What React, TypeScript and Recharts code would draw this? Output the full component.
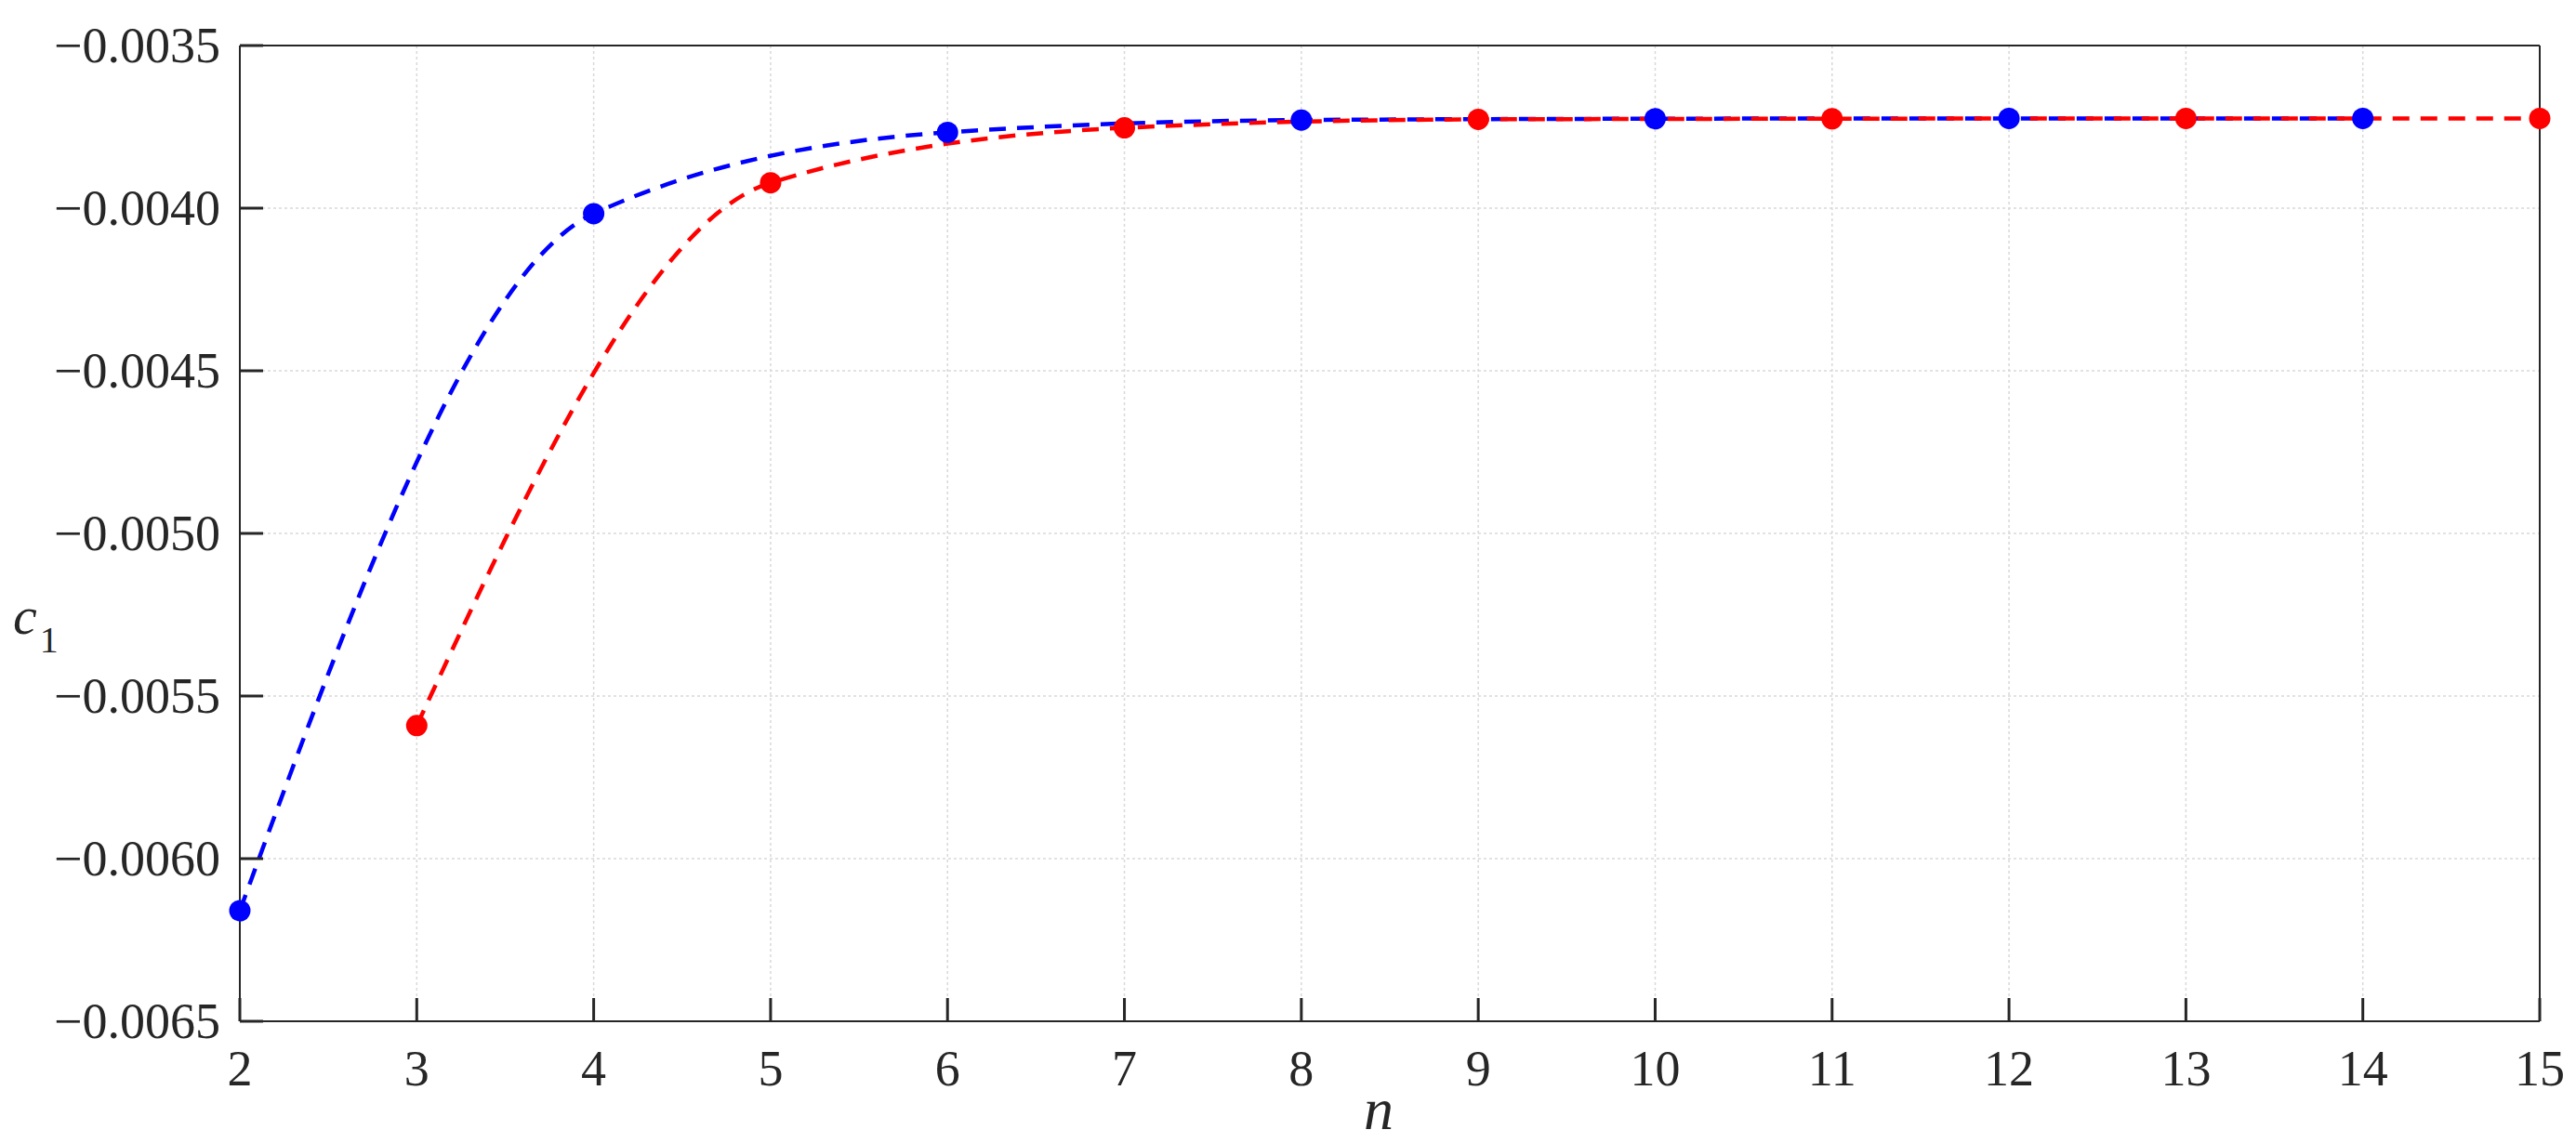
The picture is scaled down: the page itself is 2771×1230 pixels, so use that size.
import { CartesianGrid, Label, Line, LineChart, XAxis, YAxis } from "recharts";

// even n (blue) and odd n (red) sequences for c1
const evenN = [2, 4, 6, 8, 10, 12, 14];
const evenC1 = [-0.00616, -0.004017, -0.003767, -0.003729, -0.003725, -0.003724, -0.003724];
const oddN = [3, 5, 7, 9, 11, 13, 15];
const oddC1 = [-0.005591, -0.003922, -0.003753, -0.003727, -0.003725, -0.003724, -0.003724];

const xTicks = [2, 3, 4, 5, 6, 7, 8, 9, 10, 11, 12, 13, 14, 15];
const yTicks = [-0.0065, -0.006, -0.0055, -0.005, -0.0045, -0.004, -0.0035];

const evenData = evenN.map((n, i) => ({ n, c1: evenC1[i] }));
const oddData = oddN.map((n, i) => ({ n, c1: oddC1[i] }));

const AXIS = "#262626";
const FONT = "'Liberation Serif', 'Times New Roman', serif";
const TICK_LEN = 25;
const TICK_W = 3;

const fmtY = (v: number) => v.toFixed(4).replace("-", "\u2212");

// ticks point inward, MATLAB style; the label is drawn beside the tick line
function BottomTick(props: any) {
  const { x, y, payload } = props;
  return (
    <g>
      <path d={`M${x},${y}V${y - TICK_LEN}`} stroke={AXIS} strokeWidth={TICK_W} fill="none" />
      <text x={x} y={y + 69} textAnchor="middle" fontFamily={FONT} fontSize={54} fill={AXIS}>
        {payload.value}
      </text>
    </g>
  );
}

function LeftTick(props: any) {
  const { x, y, payload } = props;
  return (
    <g>
      <path d={`M${x},${y}H${x + TICK_LEN}`} stroke={AXIS} strokeWidth={TICK_W} fill="none" />
      <text x={x - 21} y={y + 18} textAnchor="end" fontFamily={FONT} fontSize={54} fill={AXIS}>
        {fmtY(payload.value)}
      </text>
    </g>
  );
}

function TopTick(props: any) {
  const { x, y } = props;
  return <path d={`M${x},${y}V${y + TICK_LEN}`} stroke={AXIS} strokeWidth={TICK_W} fill="none" />;
}

function RightTick(props: any) {
  const { x, y } = props;
  return <path d={`M${x},${y}H${x - TICK_LEN}`} stroke={AXIS} strokeWidth={TICK_W} fill="none" />;
}

export default function App() {
  return (
    <div style={{ width: 2771, height: 1230, background: "#fff", fontFamily: FONT }}>
      <style>{`body { margin: 0; }`}</style>
      <LineChart width={2771} height={1230} margin={{ top: 48, right: 38, bottom: 0, left: 0 }}>
        <CartesianGrid xAxisId="b" yAxisId="l" stroke="#d9d9d9" strokeWidth={1.5} strokeDasharray="3 3" />
        <XAxis
          xAxisId="b"
          dataKey="n"
          type="number"
          domain={[2, 15]}
          ticks={xTicks}
          height={131}
          tickSize={0}
          tickLine={false}
          tickMargin={0}
          tick={(p: any) => <BottomTick {...p} />}
          stroke={AXIS}
          strokeWidth={2}
        >
          <Label
            content={() => (
              <text x={1483} y={1215} textAnchor="middle" fontFamily={FONT} fontStyle="italic" fontSize={64} fill={AXIS}>
                n
              </text>
            )}
          />
        </XAxis>
        <XAxis
          xAxisId="t"
          orientation="top"
          dataKey="n"
          type="number"
          domain={[2, 15]}
          ticks={xTicks}
          height={1}
          tickSize={0}
          tickLine={false}
          tickMargin={0}
          tick={(p: any) => <TopTick {...p} />}
          stroke={AXIS}
          strokeWidth={2}
        />
        <YAxis
          yAxisId="l"
          type="number"
          domain={[-0.0065, -0.0035]}
          ticks={yTicks}
          width={258}
          tickSize={0}
          tickLine={false}
          tickMargin={0}
          tick={(p: any) => <LeftTick {...p} />}
          stroke={AXIS}
          strokeWidth={2}
        >
          <Label
            content={() => (
              <text x={14} y={682} fontFamily={FONT} fill={AXIS}>
                <tspan fontStyle="italic" fontSize={58}>c</tspan>
                <tspan fontSize={40} dx={3} dy={20}>1</tspan>
              </text>
            )}
          />
        </YAxis>
        <YAxis
          yAxisId="r"
          orientation="right"
          type="number"
          domain={[-0.0065, -0.0035]}
          ticks={yTicks}
          width={1}
          tickSize={0}
          tickLine={false}
          tickMargin={0}
          tick={(p: any) => <RightTick {...p} />}
          stroke={AXIS}
          strokeWidth={2}
        />
        <Line
          xAxisId="b"
          yAxisId="l"
          data={evenData}
          dataKey="c1"
          type="monotone"
          stroke="#0000ff"
          strokeWidth={4.5}
          strokeDasharray="18 12"
          dot={{ r: 11.5, fill: "#0000ff", stroke: "none", strokeDasharray: "0" }}
          isAnimationActive={false}
        />
        <Line
          xAxisId="b"
          yAxisId="l"
          data={oddData}
          dataKey="c1"
          type="monotone"
          stroke="#ff0000"
          strokeWidth={4.5}
          strokeDasharray="18 12"
          dot={{ r: 11.5, fill: "#ff0000", stroke: "none", strokeDasharray: "0" }}
          isAnimationActive={false}
        />
      </LineChart>
    </div>
  );
}
